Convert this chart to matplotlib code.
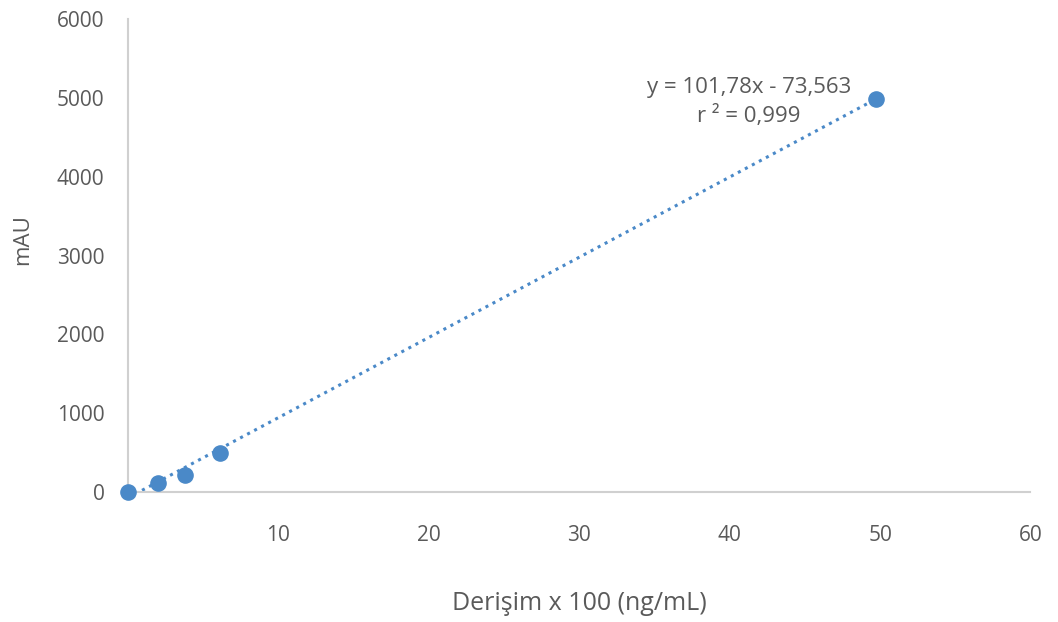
import numpy as np
import matplotlib.pyplot as plt

plt.rcParams['font.family'] = ['Open Sans', 'DejaVu Sans']

# data
conc = [0, 2.0, 3.8, 6.1, 49.7]
mau = [0, 110, 220, 490, 4990]
slope = 101.78
intercept = -73.563
eq_text = "y = 101,78x - 73,563\nr ² = 0,999"

xticks = [10, 20, 30, 40, 50, 60]
yticks = [0, 1000, 2000, 3000, 4000, 5000, 6000]

fig = plt.figure(figsize=(10.58, 6.22), dpi=100)
ax = fig.add_axes([0.121, 0.209, 0.853, 0.76])

blue = "#4a89c8"
gray = "#5a5a5a"

xs = np.array([0, max(conc)])
ax.plot(xs, slope * xs + intercept, linestyle=(0, (1, 1.6)), color=blue, lw=2.2)
ax.scatter(conc, mau, s=120, color=blue, zorder=3, clip_on=False)

ax.text(41.3, 4950, eq_text, ha="center", va="center", fontsize=16,
        color=gray, linespacing=1.45, multialignment="center")

ax.set_xlim(0, 60)
ax.set_ylim(0, 6000)
ax.set_xticks(xticks)
ax.set_yticks(yticks)
ax.tick_params(length=0, labelsize=15, labelcolor=gray, pad=17)
ax.tick_params(axis="x", pad=24)

for side in ["top", "right"]:
    ax.spines[side].set_visible(False)
for side in ["left", "bottom"]:
    ax.spines[side].set_color("#d0d0d0")
    ax.spines[side].set_linewidth(1.5)

ax.set_xlabel("Derişim x 100 (ng/mL)", fontsize=18, color=gray, labelpad=32)
ax.set_ylabel("mAU", fontsize=16, color=gray)
ax.yaxis.set_label_coords(-0.105, 0.533)

fig.savefig("out.png", dpi=100)
